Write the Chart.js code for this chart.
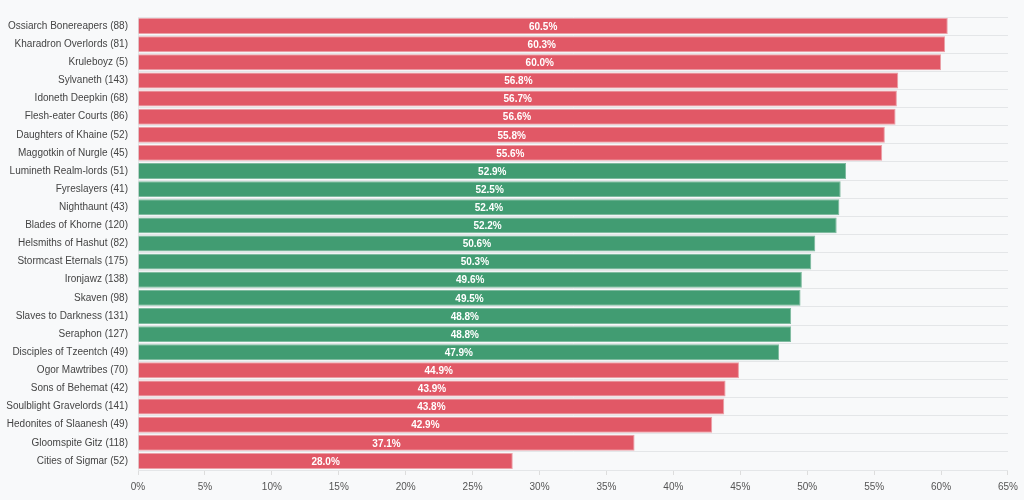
<!DOCTYPE html>
<html>
<head>
<meta charset="utf-8">
<script src="https://cdn.jsdelivr.net/npm/chart.js@4"></script>
<style>
  html, body { margin: 0; padding: 0; background: #f8f9fa; }
  #wrap { width: 1024px; height: 500px; }
</style>
</head>
<body>
<div id="wrap"><canvas id="faction-chart"></canvas></div>
<script>
const factions = [
  'Ossiarch Bonereapers', 'Kharadron Overlords', 'Kruleboyz', 'Sylvaneth',
  'Idoneth Deepkin', 'Flesh-eater Courts', 'Daughters of Khaine', 'Maggotkin of Nurgle',
  'Lumineth Realm-lords', 'Fyreslayers', 'Nighthaunt', 'Blades of Khorne',
  'Helsmiths of Hashut', 'Stormcast Eternals', 'Ironjawz', 'Skaven',
  'Slaves to Darkness', 'Seraphon', 'Disciples of Tzeentch', 'Ogor Mawtribes',
  'Sons of Behemat', 'Soulblight Gravelords', 'Hedonites of Slaanesh', 'Gloomspite Gitz',
  'Cities of Sigmar',
];
const games = [88, 81, 5, 143, 68, 86, 52, 45, 51, 41, 43, 120, 82, 175, 138, 98, 131, 127, 49, 70, 42, 141, 49, 118, 52];
const winRates = [60.5, 60.3, 60.0, 56.8, 56.7, 56.6, 55.8, 55.6, 52.9, 52.5, 52.4, 52.2, 50.6, 50.3, 49.6, 49.5, 48.8, 48.8, 47.9, 44.9, 43.9, 43.8, 42.9, 37.1, 28.0];
const xTicks = [0, 5, 10, 15, 20, 25, 30, 35, 40, 45, 50, 55, 60, 65];

const labels = factions.map((f, i) => f + ' (' + games[i] + ')');
// 45-55 is the "balanced" band, everything else flagged red
const inBand = (v) => v >= 45 && v < 55;
const fill = winRates.map((v) => (inBand(v) ? 'rgba(25,135,84,0.82)' : 'rgba(220,53,69,0.82)'));
const edge = winRates.map((v) => (inBand(v) ? 'rgba(25,135,84,0.55)' : 'rgba(220,53,69,0.45)'));

const barLabels = {
  id: 'barLabels',
  afterDatasetsDraw(chart) {
    const ctx = chart.ctx;
    const meta = chart.getDatasetMeta(0);
    ctx.save();
    ctx.fillStyle = '#ffffff';
    ctx.font = 'bold 10px "Liberation Sans", Arial, sans-serif';
    ctx.textAlign = 'center';
    ctx.textBaseline = 'middle';
    meta.data.forEach((bar, i) => {
      const cx = (bar.x + bar.base) / 2;
      ctx.fillText(winRates[i].toFixed(1) + '%', cx, bar.y + 1);
    });
    ctx.restore();
  },
};

const $canvas = document.getElementById('faction-chart');
new Chart($canvas, {
  type: 'bar',
  data: {
    labels: labels,
    datasets: [
      {
        data: winRates,
        backgroundColor: fill,
        borderColor: edge,
        borderWidth: 1,
        barPercentage: 0.88,
        categoryPercentage: 1.0,
      },
    ],
  },
  options: {
    indexAxis: 'y',
    responsive: true,
    maintainAspectRatio: false,
    animation: false,
    layout: { padding: { top: 17, right: 10, bottom: 1, left: 0 } },
    plugins: {
      legend: { display: false },
      tooltip: { enabled: false },
    },
    scales: {
      x: {
        min: 0,
        max: 65,
        afterBuildTicks(axis) {
          axis.ticks = xTicks.map((v) => ({ value: v }));
        },
        grid: { drawOnChartArea: false, drawTicks: true, tickLength: 5, color: '#dddddd' },
        border: { display: false },
        ticks: {
          color: '#555',
          font: { family: '"Liberation Sans", Arial, sans-serif', size: 10 },
          callback: (v) => v + '%',
          padding: 6,
        },
      },
      y: {
        afterFit(axis) {
          axis.width = 138;
        },
        grid: { color: '#e4e6e8', drawTicks: false },
        border: { color: '#e4e6e8' },
        ticks: {
          color: '#444',
          font: { family: '"Liberation Sans", Arial, sans-serif', size: 10 },
          padding: 10,
          autoSkip: false,
        },
      },
    },
  },
  plugins: [barLabels],
});
</script>
</body>
</html>
